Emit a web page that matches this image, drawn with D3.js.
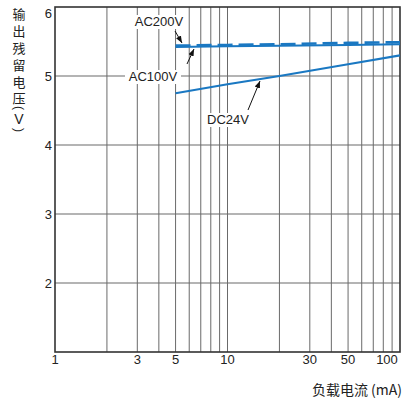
<!DOCTYPE html>
<html>
<head>
<meta charset="UTF-8">
<script src="https://d3js.org/d3.v7.min.js"></script>
<style>
 body { margin: 0; background: #fff; }
 text { font-family: "Liberation Sans", Arial, sans-serif; fill: #222; }
 .cjk { font-family: "Noto Sans CJK SC", sans-serif; }
</style>
</head>
<body>
<svg id="chart" width="405" height="401"></svg>
<script>
// data
const xTickValues = [1, 3, 5, 10, 30, 50, 100];
const yTickValues = [2, 3, 4, 5, 6];
const loadCurrent = [5, 10, 20, 50, 100];          // mA
const ac200V = [5.44, 5.45, 5.46, 5.48, 5.49];
const ac100V = [5.42, 5.43, 5.44, 5.45, 5.46];
const dc24V  = [4.75, 4.88, 5.00, 5.17, 5.30];

const svg = d3.select("#chart");
const plotLeft = 55, plotRight = 400, plotTop = 7, plotBottom = 352;
const blue = "#1a78c2";

const xScale = d3.scaleLog().domain([1, 100]).range([plotLeft, plotRight]);
const yScale = d3.scaleLinear().domain([1, 6]).range([plotBottom, plotTop]);

// vertical grid: 2..9, 10..90
var gridX = [];
for (var d = 1; d <= 10; d *= 10)
  for (var k = 2; k <= 9; k++) gridX.push(k * d);
gridX.push(10);

svg.append("g").selectAll("line").data(gridX).enter().append("line")
  .attr("x1", d => xScale(d)).attr("x2", d => xScale(d))
  .attr("y1", plotTop).attr("y2", plotBottom)
  .style("stroke", "#6a6a6a").style("stroke-width", 1);

svg.append("g").selectAll("line").data([2, 3, 4, 5]).enter().append("line")
  .attr("x1", plotLeft).attr("x2", plotRight)
  .attr("y1", d => yScale(d)).attr("y2", d => yScale(d))
  .style("stroke", "#6a6a6a").style("stroke-width", 1.2);

// frame
svg.append("rect").attr("x", plotLeft).attr("y", plotTop)
  .attr("width", plotRight - plotLeft).attr("height", plotBottom - plotTop)
  .style("fill", "none").style("stroke", "#333").style("stroke-width", 1.6);

// tick labels
svg.append("g").selectAll("text").data(xTickValues).enter().append("text")
  .attr("x", d => d == 100 ? xScale(d) - 13 : xScale(d))
  .attr("y", 364)
  .attr("text-anchor", "middle")
  .style("font-size", "13px")
  .text(d => d);

svg.append("g").selectAll("text").data(yTickValues).enter().append("text")
  .attr("x", 52)
  .attr("y", d => d == 6 ? yScale(d) + 11 : yScale(d) + 5)
  .attr("text-anchor", "end")
  .style("font-size", "13px")
  .text(d => d);

// axis titles
svg.append("text").attr("class", "cjk")
  .attr("x", 402).attr("y", 395)
  .attr("text-anchor", "end")
  .style("font-size", "14px")
  .text("负载电流 (mA)");

svg.append("text").attr("class", "cjk")
  .attr("x", 19).attr("y", 8)
  .style("writing-mode", "vertical-rl")
  .style("letter-spacing", "3.8px")
  .style("font-size", "13px")
  .text("输出残留电压");
svg.append("text").attr("transform", "translate(19,108) rotate(90)")
  .attr("text-anchor", "middle").attr("dy", "0.35em")
  .style("font-size", "12px").text("(");
svg.append("text").attr("x", 19).attr("y", 124)
  .attr("text-anchor", "middle")
  .style("font-size", "14px").text("V");
svg.append("text").attr("transform", "translate(19,130) rotate(90)")
  .attr("text-anchor", "middle").attr("dy", "0.35em")
  .style("font-size", "12px").text(")");

// series
const line = d3.line().x(d => xScale(d[0])).y(d => yScale(d[1]));

svg.append("path").datum(d3.zip(loadCurrent, ac100V))
  .attr("d", line).style("fill", "none")
  .style("stroke", blue).style("stroke-width", 2);

svg.append("path").datum(d3.zip(loadCurrent, ac200V))
  .attr("d", line).style("fill", "none")
  .style("stroke", blue).style("stroke-width", 2.6)
  .style("stroke-dasharray", "15,6");

svg.append("path").datum(d3.zip(loadCurrent, dc24V))
  .attr("d", line).style("fill", "none")
  .style("stroke", blue).style("stroke-width", 2.2);

// annotations
svg.append("defs").append("marker")
  .attr("id", "arr").attr("viewBox", "0 0 10 10")
  .attr("refX", 10).attr("refY", 5)
  .attr("markerWidth", 7).attr("markerHeight", 7)
  .attr("orient", "auto")
  .append("path").attr("d", "M0,1 L10,5 L0,9 z").style("fill", "#111");

function label(txt, x, y, w) {
  svg.append("rect").attr("x", x - w / 2).attr("y", y - 11)
    .attr("width", w).attr("height", 14).style("fill", "#fff");
  svg.append("text").attr("x", x).attr("y", y)
    .attr("text-anchor", "middle").style("font-size", "13px").text(txt);
}
function arrow(x1, y1, x2, y2) {
  svg.append("line").attr("x1", x1).attr("y1", y1).attr("x2", x2).attr("y2", y2)
    .style("stroke", "#111").style("stroke-width", 1)
    .attr("marker-end", "url(#arr)");
}

label("AC200V", 159, 26, 56);
arrow(175, 31, 182, 43);
label("AC100V", 153, 81, 56);
arrow(187, 64, 194, 49);
label("DC24V", 228, 124, 48);
arrow(248, 110, 260, 81);
</script>
</body>
</html>
